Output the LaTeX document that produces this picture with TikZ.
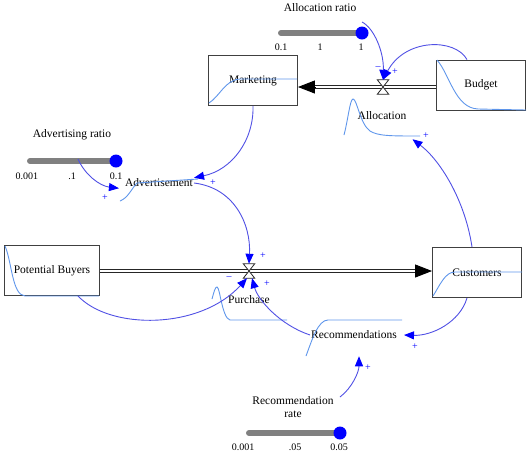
\documentclass[tikz,border=0pt]{standalone}
\usepackage{fontspec}
\setmainfont{Liberation Serif}
\usetikzlibrary{arrows.meta,positioning}

\definecolor{linkblue}{RGB}{80,80,228}
\definecolor{tipblue}{RGB}{0,0,255}
\definecolor{graphblue}{RGB}{95,150,235}
\definecolor{boxgray}{RGB}{64,64,64}
\definecolor{bargray}{RGB}{128,128,128}

\tikzset{
  stock/.style={draw=boxgray, line width=0.9pt, minimum width=89pt, minimum height=50pt,
    inner sep=0pt, font=\fontsize{11.5}{13}\selectfont},
  aux/.style={inner sep=1pt, font=\fontsize{11.5}{13}\selectfont},
  tick/.style={inner sep=0pt, font=\fontsize{10}{11}\selectfont},
  sign/.style={inner sep=0pt, text=tipblue, font=\fontsize{10}{10}\selectfont},
  valve/.style={minimum width=11pt, minimum height=14pt, inner sep=0pt},
  valveline/.style={draw=black!85, fill=white, line width=0.8pt},
  pipe/.style={draw=black!85, line width=0.9pt, double=white, double distance=2.6pt},
  pipetip/.style={-{Triangle[length=17pt,width=13pt]}, black, line width=0.9pt},
  link/.style={draw=linkblue, line width=0.9pt, -{Triangle[length=10pt,width=8pt,color=tipblue]}},
  graph/.style={draw=graphblue, line width=0.9pt},
  bar/.style={draw=bargray, line width=6pt, line cap=round},
  knob/.style={circle, fill=tipblue, minimum size=13pt, inner sep=0pt}
}

\begin{document}
\begin{tikzpicture}[x=1pt,y=-1pt]
  \useasboundingbox (0,0) rectangle (532,456);

  % stocks
  \node[stock] (mkt)    at (253,80.5) {Marketing};
  \node[stock] (budget) at (481,85)   {Budget};
  \node[stock, minimum width=95pt] (buyers) at (52,270.5) {Potential Buyers};
  \node[stock] (cust)   at (477,272.5) {Customers};

  % graphs inside stocks
  \draw[graph] (209,103) .. controls (220,96) and (225,80) .. (240,79) -- (297,79);
  \draw[graph] (437,60) .. controls (450,75) and (455,108) .. (478,109) -- (526,110);
  \draw[graph] (5,246) .. controls (12,262) and (12,295) .. (25,296) -- (99,296);
  \draw[graph] (433,296) .. controls (440,285) and (445,272) .. (455,272) -- (522,272);

  % flows
  \node[valve] (av) at (383,87) {};
  \node[valve] (pv) at (249,271) {};
  \coordinate (mkt in)  at (mkt.east |- av);
  \coordinate (budget out) at (budget.west |- av);
  \coordinate (cust in) at (cust.west |- pv);
  \coordinate (buyers out) at (buyers.east |- pv);
  \draw[pipe, shorten >=16pt] (budget out) -- (mkt in);
  \draw[pipetip] ([xshift=17pt]mkt in) -- (mkt in);
  \draw[pipe, shorten >=16pt] (buyers out) -- (cust in);
  \draw[pipetip] ([xshift=-17pt]cust in) -- (cust in);
  \draw[valveline] (av.north west) -- (av.south east) -- (av.south west) -- (av.north east) -- cycle;
  \draw[valveline] (pv.north west) -- (pv.south east) -- (pv.south west) -- (pv.north east) -- cycle;

  % auxiliaries
  \node[aux] (alloc) at (382,116) {Allocation};
  \node[aux] (purch) at (249,300) {Purchase};
  \node[aux] (recs)  at (354,335) {Recommendations};
  \node[aux] (adv)   at (159,183) {Advertisement};
  \draw[graph] (344,135) .. controls (348,120) and (350,99) .. (353,99)
    .. controls (357,99) and (360,124) .. (370,131) .. controls (378,136) and (390,136) .. (420,136);
  \draw[graph] (212,299) .. controls (214,292) and (215,287) .. (217,287)
    .. controls (220,287) and (222,318) .. (230,320) -- (287,320);
  \draw[graph] (306,356) .. controls (312,340) and (318,320) .. (328,320) -- (402,320);
  \draw[graph] (120,201) .. controls (128,198) and (132,188) .. (137,183) -- (198,179);

  % sliders
  \node[aux] (ar title) at (320,8) {Allocation ratio};
  \coordinate (ar lo) at (281,33);
  \coordinate (ar hi) at (362,33);
  \coordinate (ar tick) at (362,22);
  \draw[bar] (ar lo) -- (ar hi);
  \node[knob] (ar knob) at (ar hi) {};
  \node[tick] (ar min) at (281,47) {0.1};
  \node[tick] (ar mid) at (320,47) {1};
  \node[tick] (ar max) at (361,47) {1};

  \node[aux] (adr title) at (72,135) {Advertising ratio};
  \coordinate (adr lo) at (30,161);
  \coordinate (adr hi) at (116,161);
  \coordinate (adr tick) at (78,159);
  \draw[bar] (adr lo) -- (adr hi);
  \node[knob] (adr knob) at (adr hi) {};
  \node[tick] (adr min) at (27,176) {0.001};
  \node[tick] (adr mid) at (72,176) {.1};
  \node[tick] (adr max) at (116,176) {0.1};

  \node[aux, align=center] (rr title) at (293,407) {Recommendation\\rate};
  \coordinate (rr lo) at (249,433);
  \coordinate (rr hi) at (340,433);
  \coordinate (rr tick) at (340,397);
  \draw[bar] (rr lo) -- (rr hi);
  \node[knob] (rr knob) at (rr hi) {};
  \node[tick] (rr min) at (243,447) {0.001};
  \node[tick] (rr mid) at (295,447) {.05};
  \node[tick] (rr max) at (339,447) {0.05};

  % links
  \draw[link] (ar tick) .. controls (374,28) and (384,52) .. (av.north);
  \draw[link] ([xshift=-14pt]budget.north) .. controls (455,38) and (405,38) .. (av.north);
  \draw[link] ([xshift=-5pt]cust.north) .. controls (465,200) and (440,160) .. ([xshift=5pt,yshift=-18pt]alloc.south east);
  \draw[link] (mkt.south) .. controls (254,140) and (232,170) .. (adv.north east);
  \draw[link] (adr tick) .. controls (85,175) and (100,186) .. ([xshift=-5pt]adv.south west);
  \draw[link] (adv.east) .. controls (235,188) and (251,225) .. (pv.north);
  \draw[link] ([xshift=26pt]buyers.south) .. controls (110,330) and (200,330) .. ([xshift=-2pt]pv.south);
  \draw[link] (recs.west) .. controls (280,325) and (258,300) .. ([xshift=3pt]pv.south);
  \draw[link] ([xshift=-10pt]cust.south) .. controls (460,322) and (432,336) .. ([xshift=6pt]recs.east);
  \draw[link] (rr tick) .. controls (352,388) and (359,372) .. ([xshift=5pt,yshift=-16pt]recs.south);

  % polarities
  \node[sign] (s av1) at (378,68) {–};
  \node[sign] (s av2) at (395,72) {+};
  \node[sign] (s alloc) at (426,136) {+};
  \node[sign] (s adv1) at (213,183) {+};
  \node[sign] (s adv2) at (105,198) {+};
  \node[sign] (s pv1) at (263,256) {+};
  \node[sign] (s pv2) at (229,278) {–};
  \node[sign] (s pv3) at (267,284) {+};
  \node[sign] (s recs1) at (415,347) {+};
  \node[sign] (s recs2) at (368,368) {+};
\end{tikzpicture}
\end{document}
